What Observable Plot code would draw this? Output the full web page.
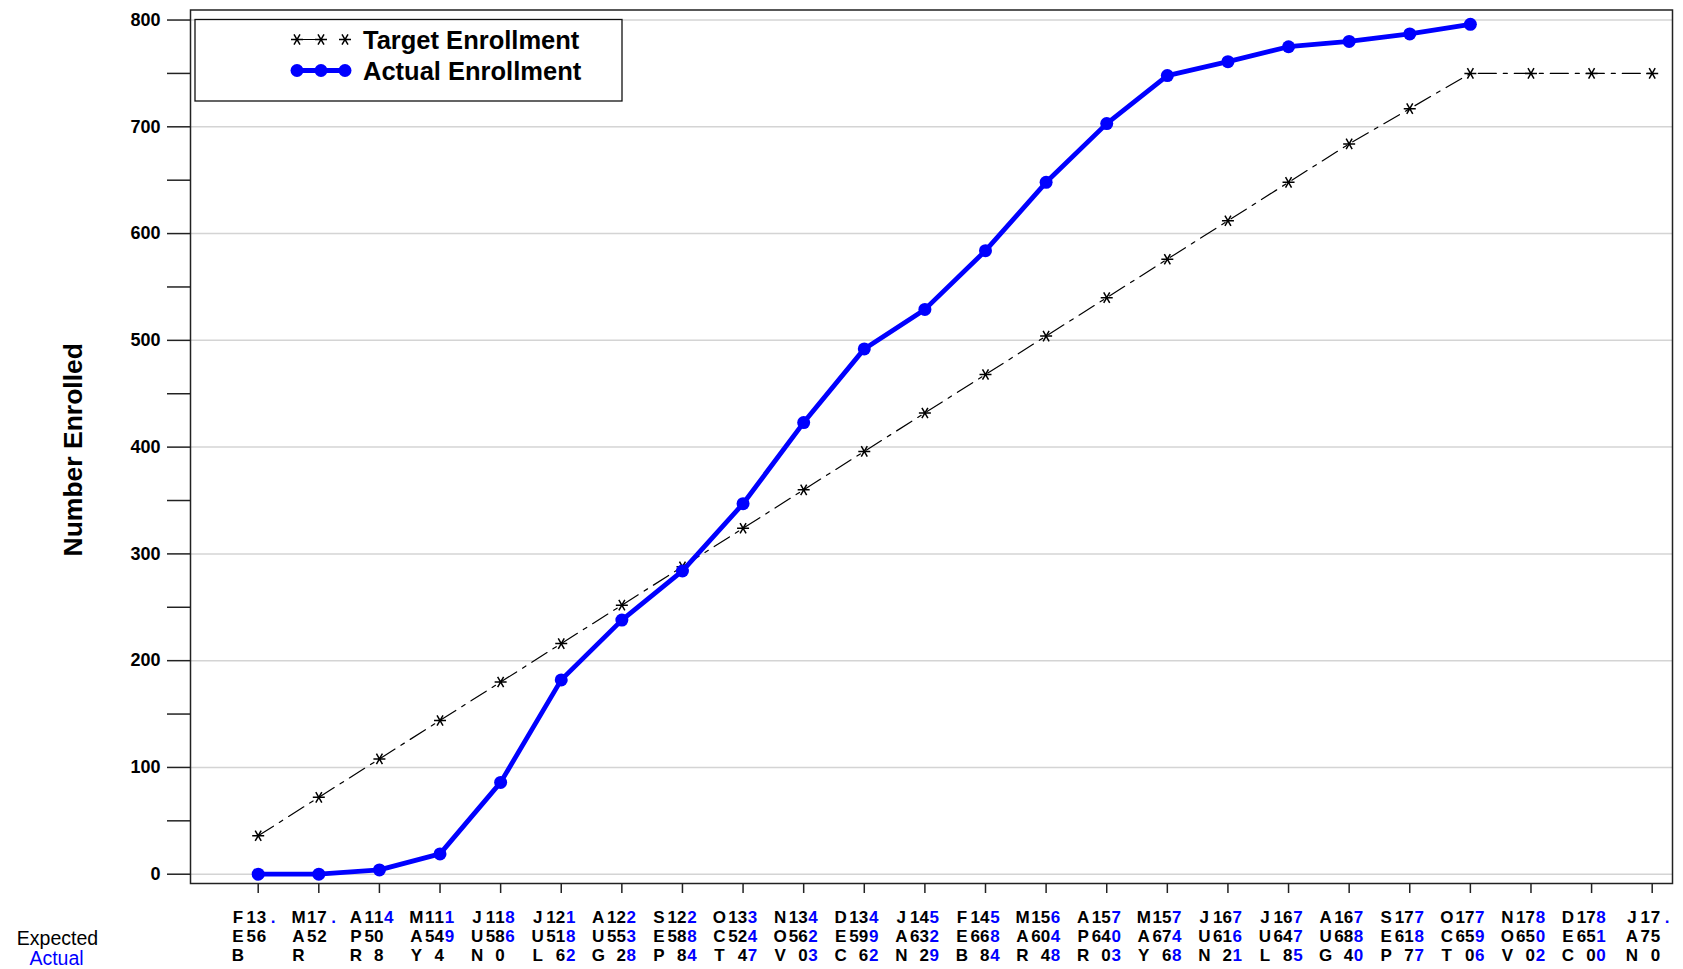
<!DOCTYPE html>
<html><head><meta charset="utf-8">
<script src="https://cdn.jsdelivr.net/npm/d3@7"></script>
<script src="https://cdn.jsdelivr.net/npm/@observablehq/plot@0.6"></script>
<style>
body{margin:0;background:#fff;}
svg{display:block}
g[aria-label="y-axis tick label"] text{font-weight:bold}
</style>
</head><body><div id="chart"></div>
<script>
// ---- data ----
const months = ["FEB","MAR","APR","MAY","JUN","JUL","AUG","SEP","OCT","NOV","DEC","JAN","FEB","MAR","APR","MAY","JUN","JUL","AUG","SEP","OCT","NOV","DEC","JAN"];
const years  = ["15","15","15","15","15","15","15","15","15","15","15","16","16","16","16","16","16","16","16","16","16","16","16","17"];
const expected = [36,72,108,144,180,216,252,288,324,360,396,432,468,504,540,576,612,648,684,717,750,750,750,750];
const actual   = [0,0,4,19,86,182,238,284,347,423,492,529,584,648,703,748,761,775,780,787,796,802,810,null];
const actualPlottedCount = 21; // the blue line stops at OCT 16
const yTicks = [0,100,200,300,400,500,600,700,800];
const yMinorTicks = [50,150,250,350,450,550,650,750];
const seriesNames = ["Target Enrollment","Actual Enrollment"];
const rowLabels = ["Expected","Actual"];
const yTitle = "Number Enrolled";

const FONT = '"Liberation Sans", Arial, sans-serif';
const BLUE = "#0000ff";

const data = months.map((m,i)=>({i, month:m, year:years[i], expected:expected[i], actual:actual[i]}));
const actualData = data.slice(0, actualPlottedCount);
const vertical = s => String(s).split("").join("\n");
const actualLabel = v => v ? String(v) : ".";

// asterisk: horizontal bar + two diagonals
const starSym = {draw(ctx, size){
  const r = Math.sqrt(size/Math.PI);
  const a = r*Math.cos(Math.PI/3), b = r*Math.sin(Math.PI/3);
  ctx.moveTo(-r,0); ctx.lineTo(r,0);
  ctx.moveTo(-a,-b); ctx.lineTo(a,b);
  ctx.moveTo(-a,b); ctx.lineTo(a,-b);
}};

function labelCols(rows, off){
  const common = {x:"i", frameAnchor:"bottom", lineAnchor:"top", lineHeight:1.1, dy:26.5, fontSize:17, fontWeight:"bold", textAnchor:"middle"};
  return [
    Plot.text(rows, {...common, text:d=>vertical(d.month), dx:off[0], fill:"black"}),
    Plot.text(rows, {...common, text:d=>vertical(d.year), dx:off[1], fill:"black"}),
    Plot.text(rows, {...common, text:d=>vertical(d.expected), dx:off[2], fill:"black"}),
    Plot.text(rows, {...common, text:d=>vertical(actualLabel(d.actual)), dx:off[3], fill:BLUE})
  ];
}
const wide = data.filter(d=>d.actual);
const narrow = data.filter(d=>!d.actual);

const W = 1683, H = 969, ML = 190, MR = 11, MT = 9.5, MB = 86;

const plot = Plot.plot({
  width: W, height: H,
  marginLeft: ML, marginRight: MR, marginTop: MT, marginBottom: MB,
  style: {fontFamily: FONT, background: "white", color: "black"},
  x: {type:"linear", domain:[-1.117, 23.335]},
  y: {domain:[-8.7, 809.4]},
  marks: [
    Plot.gridY(yTicks, {stroke:"#d4d4d4", strokeOpacity:1, strokeWidth:1.5}),
    Plot.axisY(yTicks, {tickSize:23, tickPadding:7, fontSize:18, fontWeight:"bold", label:null, stroke:"#222", strokeWidth:1.5}),
    Plot.axisY(yMinorTicks, {tickSize:23, tickFormat:()=>"", label:null, stroke:"#222", strokeWidth:1.5}),
    Plot.axisX(d3.range(months.length), {tickSize:10, tickFormat:()=>"", label:null, stroke:"#222", strokeWidth:1.5}),
    Plot.frame({stroke:"#222", strokeWidth:1.5}),
    Plot.line(data, {x:"i", y:"expected", stroke:"black", strokeWidth:1.2, strokeDasharray:"18,7,4,7"}),
    Plot.dot(data, {x:"i", y:"expected", symbol:starSym, r:6, stroke:"black", strokeWidth:1.5}),
    Plot.line(actualData, {x:"i", y:"actual", stroke:BLUE, strokeWidth:4.8}),
    Plot.dot(actualData, {x:"i", y:"actual", r:6.5, fill:BLUE}),
    ...labelCols(wide, [-23.6, -10.2, -0.7, 9.4]),
    ...labelCols(narrow, [-20.3, -7, 3.2, 14.8]),
    Plot.text([rowLabels[0]], {frameAnchor:"bottom-left", textAnchor:"middle", dx:57-ML, dy:944-(H-MB), lineAnchor:"bottom", fontSize:19.5, fill:"black"}),
    Plot.text([rowLabels[1]], {frameAnchor:"bottom-left", textAnchor:"middle", dx:56-ML, dy:964-(H-MB), lineAnchor:"bottom", fontSize:19.5, fill:BLUE}),
    Plot.text([yTitle], {frameAnchor:"left", textAnchor:"middle", rotate:-90, dx:73-ML, dy:3, fontSize:26.5, fontWeight:"bold", fill:"black"})
  ]
});

// ---- legend ----
const svg = d3.select(plot);
const lg = svg.append("g").attr("font-family", FONT).attr("text-anchor","start");
lg.append("rect").attr("x",195).attr("y",19.5).attr("width",427).attr("height",81.5)
  .attr("fill","white").attr("stroke","#111").attr("stroke-width",1.3);
const sx = [297, 321, 345];
const r1 = 39.5, r2 = 70.5;
lg.append("line").attr("x1",sx[0]).attr("x2",sx[2]).attr("y1",r1).attr("y2",r1)
  .attr("stroke","black").attr("stroke-width",1.2).attr("stroke-dasharray","26,20");
const starPath = d3.symbol(starSym, Math.PI*6*6)();
sx.forEach(x=>lg.append("path").attr("d",starPath).attr("transform",`translate(${x},${r1})`)
  .attr("fill","none").attr("stroke","black").attr("stroke-width",1.5));
lg.append("line").attr("x1",sx[0]).attr("x2",sx[2]).attr("y1",r2).attr("y2",r2)
  .attr("stroke",BLUE).attr("stroke-width",4.8);
sx.forEach(x=>lg.append("circle").attr("cx",x).attr("cy",r2).attr("r",6.5).attr("fill",BLUE));
lg.append("text").attr("x",363).attr("y",r1+9).attr("font-size",25.5).attr("font-weight","bold").attr("fill","black").text(seriesNames[0]);
lg.append("text").attr("x",363).attr("y",r2+9).attr("font-size",25.5).attr("font-weight","bold").attr("fill","black").text(seriesNames[1]);

document.getElementById("chart").appendChild(plot);
</script>
</body></html>
